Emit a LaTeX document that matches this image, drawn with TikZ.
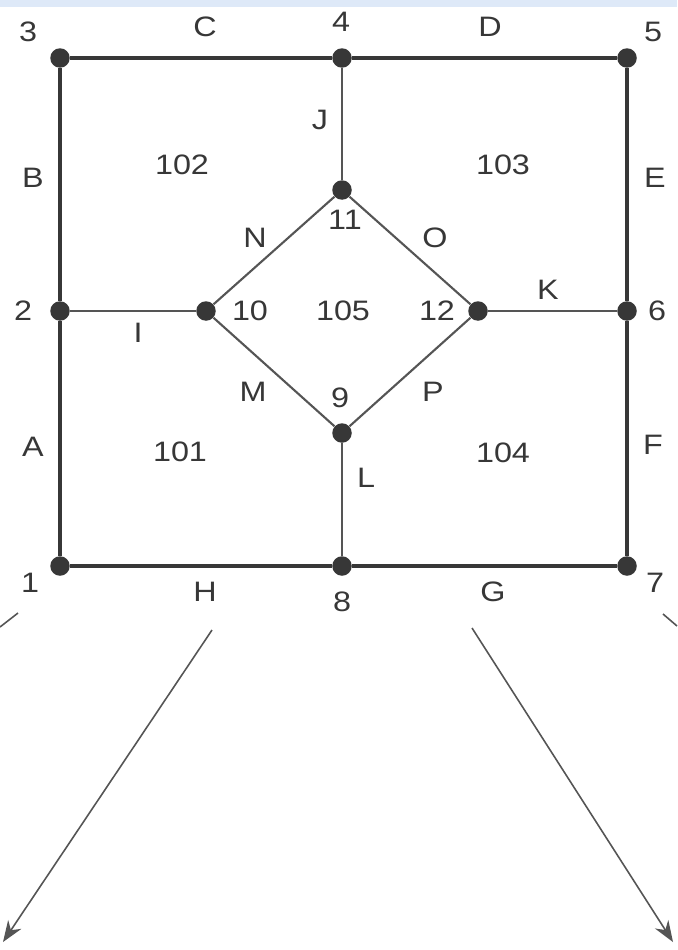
\documentclass[tikz,border=0pt]{standalone}
\usepackage{fontspec}
\setmainfont{Liberation Sans}[FakeStretch=1.15]
\usepackage{tikz}
\usetikzlibrary{arrows.meta,positioning}
\definecolor{inkgray}{RGB}{55,55,55}
\definecolor{linegray}{RGB}{85,85,85}
\definecolor{topblue}{RGB}{222,233,248}

\begin{document}
\begin{tikzpicture}[
        x=0.02cm, y=-0.02cm,
        every node/.style={font=\fontsize{16}{18}\selectfont, text=inkgray},
        dot/.style={circle, fill=inkgray, draw=none, inner sep=0pt, minimum size=0.39cm},
        outer/.style={draw=inkgray, line width=2pt},
        inner/.style={draw=linegray, line width=1.2pt},
        flow/.style={draw=linegray, line width=0.9pt, -{Stealth[length=12pt,width=9pt]}},
    ]
        % --- frame ---
        \useasboundingbox (0,0) rectangle (677,950);
        \fill[white] (0,0) rectangle (677,950);
        \fill[topblue] (0,0) rectangle (677,7);

        % --- junctions ---
        \node[dot] (n3)  at (60,58)   {};
        \node[dot] (n4)  at (342,58)  {};
        \node[dot] (n5)  at (627,58)  {};
        \node[dot] (n2)  at (60,311)  {};
        \node[dot] (n10) at (206,311) {};
        \node[dot] (n12) at (478,311) {};
        \node[dot] (n6)  at (627,311) {};
        \node[dot] (n11) at (342,190) {};
        \node[dot] (n9)  at (342,433) {};
        \node[dot] (n1)  at (60,566)  {};
        \node[dot] (n8)  at (342,566) {};
        \node[dot] (n7)  at (627,566) {};

        % --- outer pipes ---
        \draw[outer] (n1) -- (n2);
        \draw[outer] (n2) -- (n3);
        \draw[outer] (n3) -- (n4);
        \draw[outer] (n4) -- (n5);
        \draw[outer] (n5) -- (n6);
        \draw[outer] (n6) -- (n7);
        \draw[outer] (n7) -- (n8);
        \draw[outer] (n8) -- (n1);

        % --- inner pipes ---
        \draw[inner] (n2) -- (n10);
        \draw[inner] (n4) -- (n11);
        \draw[inner] (n12) -- (n6);
        \draw[inner] (n9) -- (n8);
        \draw[inner] (n10) -- (n11);
        \draw[inner] (n11) -- (n12);
        \draw[inner] (n12) -- (n9);
        \draw[inner] (n9) -- (n10);

        % --- junction numbers ---
        \node (l3)  at (28,32)   {3};
        \node (l4)  at (341,22)  {4};
        \node (l5)  at (653,32)  {5};
        \node (l2)  at (23,311)  {2};
        \node (l6)  at (657,311) {6};
        \node (l1)  at (30,583)  {1};
        \node (l7)  at (655,583) {7};
        \node (l8)  at (342,602) {8};
        \node (l9)  at (340,398) {9};
        \node (l10) at (250,311) {10};
        \node (l11) at (345,220) {11};
        \node (l12) at (437,311) {12};

        % --- pipe letters ---
        \node (pA) at (33,447)  {A};
        \node (pB) at (33,178)  {B};
        \node (pC) at (205,27)  {C};
        \node (pD) at (490,27)  {D};
        \node (pE) at (655,178) {E};
        \node (pF) at (653,445) {F};
        \node (pG) at (493,592) {G};
        \node (pH) at (205,592) {H};
        \node (pI) at (138,333) {I};
        \node (pJ) at (320,120) {J};
        \node (pK) at (548,290) {K};
        \node (pL) at (366,478) {L};
        \node (pM) at (253,392) {M};
        \node (pN) at (255,238) {N};
        \node (pO) at (435,238) {O};
        \node (pP) at (433,392) {P};

        % --- loops ---
        \node (r101) at (180,452) {101};
        \node (r102) at (182,165) {102};
        \node (r103) at (503,165) {103};
        \node (r104) at (503,453) {104};
        \node (r105) at (343,311) {105};

        % --- leaders ---
        \coordinate (hs) at (212,630);
        \coordinate (he) at (3,942);
        \coordinate (gs) at (472,628);
        \coordinate (ge) at (673,942);
        \coordinate (as) at (18,613);
        \coordinate (ae) at (0,627);
        \coordinate (bs) at (663,614);
        \coordinate (be) at (677,626);
        \draw[flow] (hs) -- (he);
        \draw[flow] (gs) -- (ge);
        \draw[draw=linegray, line width=0.9pt] (as) -- (ae);
        \draw[draw=linegray, line width=0.9pt] (bs) -- (be);

    \end{tikzpicture}
\end{document}
